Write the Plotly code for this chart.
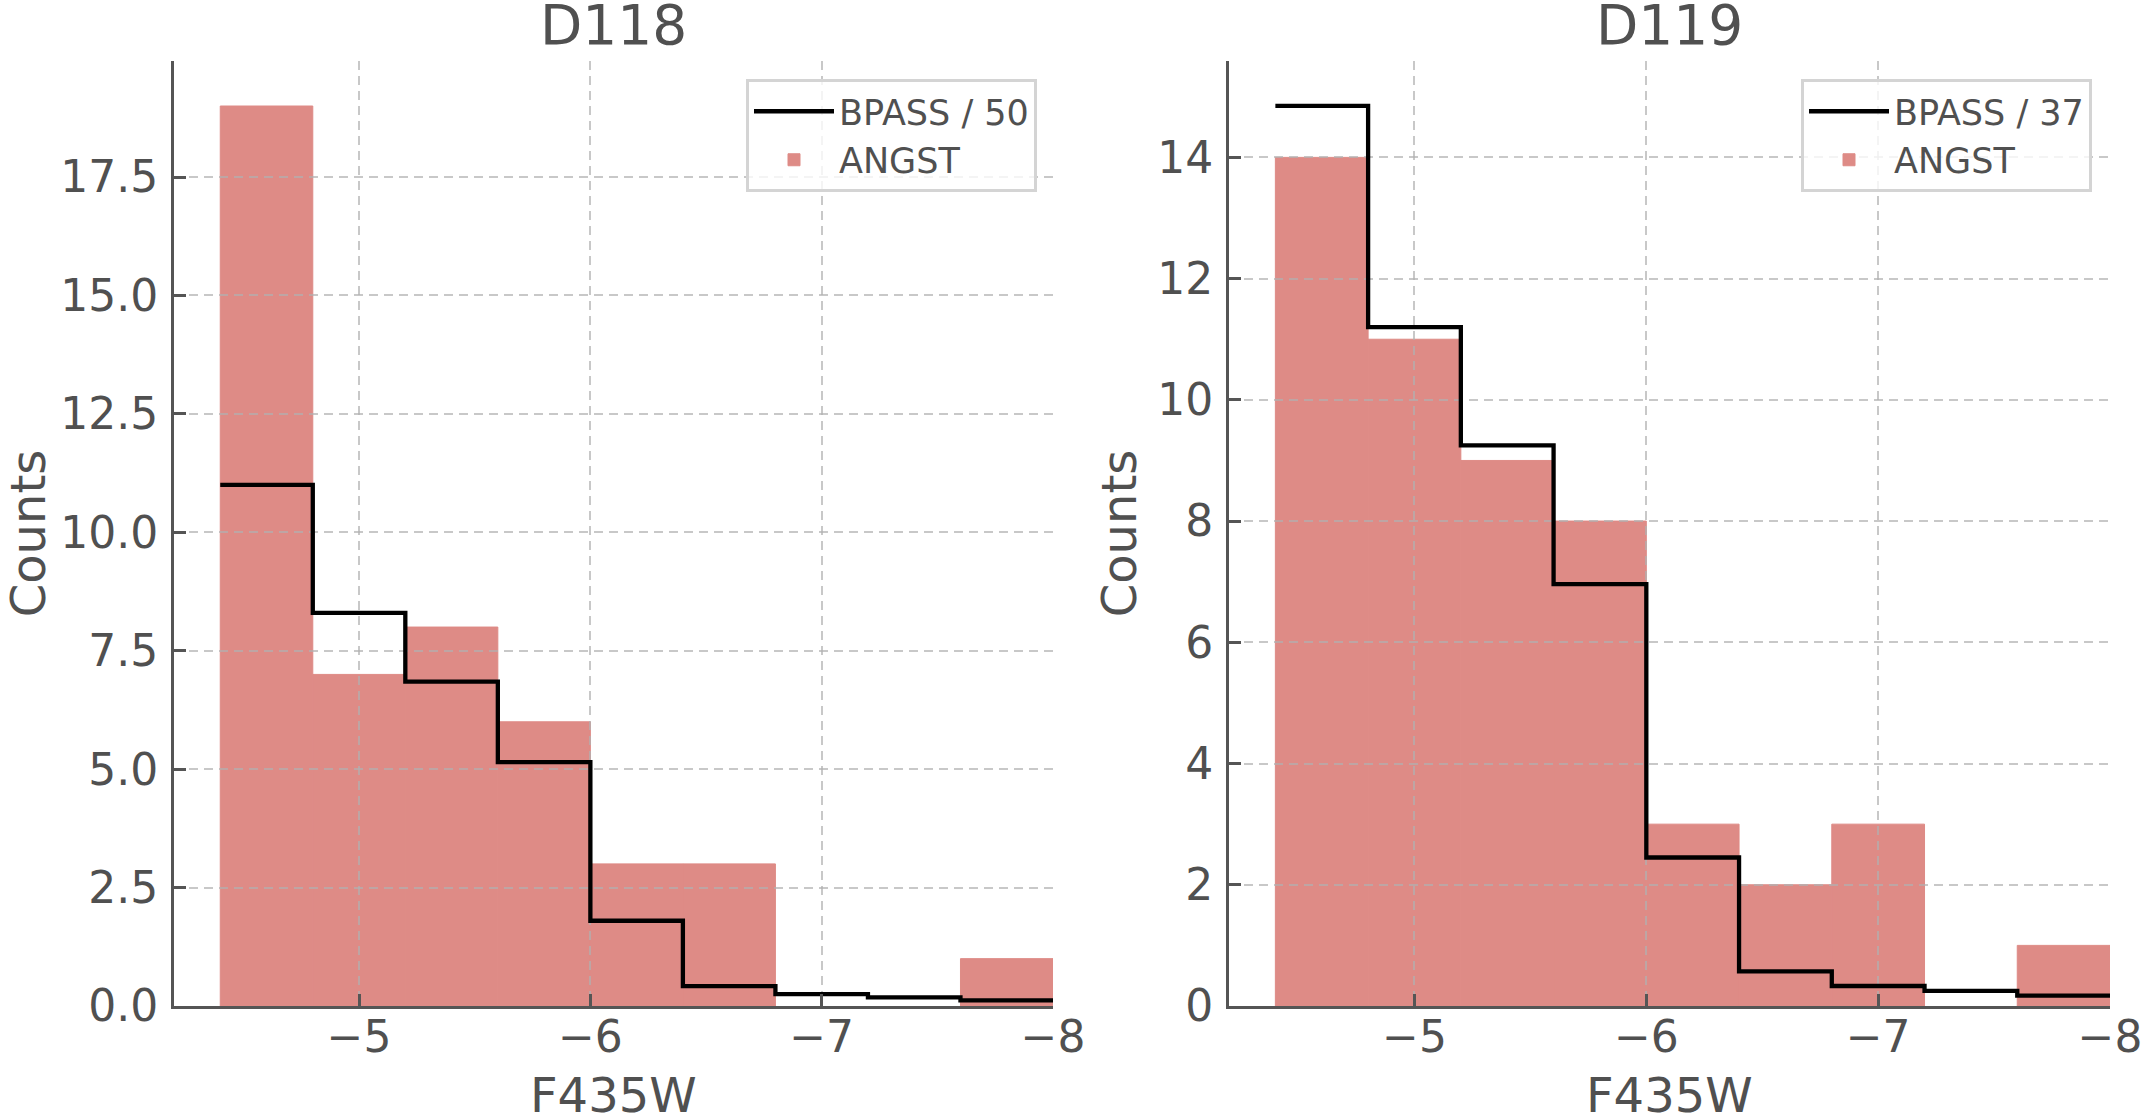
import plotly.graph_objects as go

# ---- data ----
bin_edges = [-4.4, -4.8, -5.2, -5.6, -6.0, -6.4, -6.8, -7.2, -7.6, -8.0]

angst_d118 = [19, 7, 8, 6, 3, 3, 0, 0, 1]
bpass_d118 = [11.0, 8.3, 6.85, 5.15, 1.8, 0.42, 0.25, 0.18, 0.12]

angst_d119 = [14, 11, 9, 8, 3, 2, 3, 0, 1]
bpass_d119 = [14.85, 11.2, 9.25, 6.96, 2.45, 0.57, 0.33, 0.25, 0.17]

x_ticks = [-5, -6, -7, -8]
y_ticks_d118 = [0, 2.5, 5.0, 7.5, 10.0, 12.5, 15.0, 17.5]
y_ticks_d119 = [0, 2, 4, 6, 8, 10, 12, 14]

panels = [
    dict(name="D118", angst=angst_d118, bpass=bpass_d118, scale="50",
         yticks=y_ticks_d118, ymax=19.95, fmt=".1f", ystandoff=25),
    dict(name="D119", angst=angst_d119, bpass=bpass_d119, scale="37",
         yticks=y_ticks_d119, ymax=15.59, fmt="d", ystandoff=6),
]

W, H = 2141, 1113
TXT = "#505050"
AX = "#555555"
FONT = "DejaVu Sans"
BAR = "#de8b86"
GRID = "rgba(176,176,176,0.7)"

centers = [(a + b) / 2 for a, b in zip(bin_edges[:-1], bin_edges[1:])]
width = abs(bin_edges[1] - bin_edges[0])

x_domains = [[174 / W, 1053 / W], [1229 / W, 2110 / W]]
y_domain = [(H - 1006) / H, (H - 61) / H]
legend_x = [1037 / W, 2092 / W]
xrange = [-4.2, -8.0]

fig = go.Figure()
annotations = []

# bars sit on hidden axes (subplots 1, 2); the grid, axes and step line sit on
# an identical subplot drawn on top (3, 4), so the grid is above the bars but
# below the BPASS line, like matplotlib's axisbelow='line'
for i, p in enumerate(panels):
    nb = "" if i == 0 else str(i + 1)
    nl = str(i + 3)
    leg = "legend" if i == 0 else "legend2"

    # thin outline in the bar colour hides seams between neighbouring bins
    edge = [BAR if v > 0 else "rgba(0,0,0,0)" for v in p["angst"]]
    fig.add_trace(go.Bar(
        x=centers, y=p["angst"], width=width,
        marker=dict(color=BAR, line=dict(color=edge, width=1)),
        name="ANGST", legend=leg, legendrank=2,
        xaxis="x" + nb, yaxis="y" + nb,
    ))
    fig.add_trace(go.Scatter(
        x=bin_edges, y=p["bpass"] + [p["bpass"][-1]],
        mode="lines", line=dict(color="black", width=4.3, shape="hv"),
        name="BPASS / " + p["scale"], legend=leg, legendrank=1,
        xaxis="x" + nl, yaxis="y" + nl,
    ))

    # panel title and x-axis title (the latter sits right at the page bottom,
    # where plotly would clamp a regular axis title)
    annotations.append(dict(
        text=p["name"], xref="x" + nl + " domain", yref="paper",
        x=0.5, y=1 - 25 / H, xanchor="center", yanchor="middle",
        showarrow=False, font=dict(family=FONT, size=55, color=TXT),
    ))
    annotations.append(dict(
        text="F435W", xref="x" + nl + " domain", yref="paper",
        x=0.5, y=1 - 1095 / H, xanchor="center", yanchor="middle",
        showarrow=False, font=dict(family=FONT, size=48, color=TXT),
    ))

    yrange = [0, p["ymax"]]
    fig.layout["xaxis" + nb] = dict(visible=False, domain=x_domains[i], range=xrange,
                                    anchor="y" + nb, fixedrange=True)
    fig.layout["yaxis" + nb] = dict(visible=False, domain=y_domain, range=yrange,
                                    anchor="x" + nb, fixedrange=True)

    axis_common = dict(
        showline=True, linecolor=AX, linewidth=3,
        ticks="inside", ticklen=12, tickwidth=3, tickcolor=AX,
        tickfont=dict(family=FONT, size=44, color=TXT),
        showgrid=True, gridcolor=GRID, gridwidth=2, griddash="9px,6px",
        zeroline=False, automargin=False, ticklabeloverflow="allow",
    )
    fig.layout["xaxis" + nl] = dict(
        axis_common, domain=x_domains[i], anchor="y" + nl,
        range=xrange, tickvals=x_ticks, ticklabelstandoff=-10,
    )
    fig.layout["yaxis" + nl] = dict(
        axis_common, domain=y_domain, anchor="x" + nl,
        range=yrange, tickvals=p["yticks"], tickformat=p["fmt"], ticklabelstandoff=4,
        title=dict(text="Counts", font=dict(family=FONT, size=48, color=TXT),
                   standoff=p["ystandoff"]),
    )
    fig.layout[leg] = dict(
        x=legend_x[i], y=(H - 79) / H, xanchor="right", yanchor="top",
        bgcolor="rgba(255,255,255,0.8)", bordercolor="#d4d4d4", borderwidth=3,
        font=dict(family=FONT, size=35, color=TXT), itemwidth=80,
    )

fig.update_layout(
    width=W, height=H, autosize=False,
    margin=dict(l=0, r=0, t=0, b=0),
    plot_bgcolor="rgba(0,0,0,0)", paper_bgcolor="white",
    barmode="overlay", annotations=annotations,
    font=dict(family=FONT, color=TXT),
)

fig.write_html("out.html", config={"displayModeBar": False},
               post_script="document.body.style.margin='0';")
